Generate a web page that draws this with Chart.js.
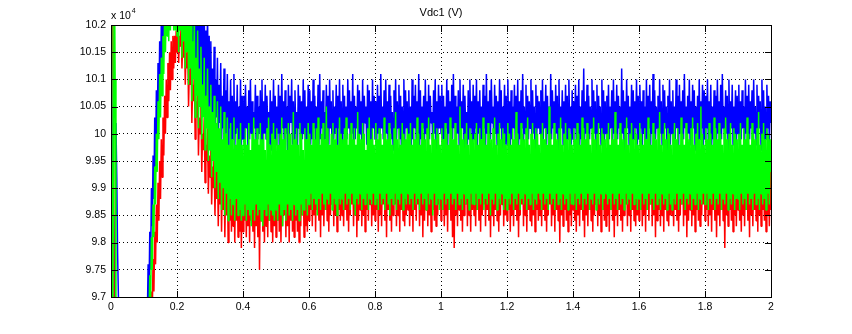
<!DOCTYPE html>
<html>
<head>
<meta charset="utf-8">
<script src="https://cdn.jsdelivr.net/npm/chart.js@4.4.0/dist/chart.umd.min.js"></script>
<style>
  html, body { margin: 0; padding: 0; background: #fff; }
  #wrap { width: 852px; height: 334px; }
</style>
</head>
<body>
<div id="wrap"><canvas id="c" width="852" height="334"></canvas></div>
<script>
// DC-link voltage Vdc1, values in units of 10^4 V, one sample every 2.5 ms from t = 0 to 2 s
const SAMPLE_STEP = 0.0025;

const xTicks = [0, 0.2, 0.4, 0.6, 0.8, 1, 1.2, 1.4, 1.6, 1.8, 2];
const xTickLabels = ['0', '0.2', '0.4', '0.6', '0.8', '1', '1.2', '1.4', '1.6', '1.8', '2'];
const yTicks = [9.7, 9.75, 9.8, 9.85, 9.9, 9.95, 10, 10.05, 10.1, 10.15, 10.2];
const yTickLabels = ['9.7', '9.75', '9.8', '9.85', '9.9', '9.95', '10', '10.05', '10.1', '10.15', '10.2'];

// one row = 0.1 s
const traceBlue = [
  10.40,10.10,9.60,9.55,9.62,9.85,10.02,9.92,9.78,9.70,9.60,9.52,9.48,9.45,9.47,9.44,9.42,9.46,9.43,9.41,9.44,9.42,9.45,9.43,9.40,9.44,9.42,9.46,9.43,9.45,9.47,9.44,9.48,9.46,9.49,9.47,9.50,9.48,9.51,9.50,
  9.53,9.56,9.58,9.62,9.66,9.76,9.70,9.82,9.75,9.90,9.83,9.96,9.88,10.03,9.94,10.08,9.99,10.13,10.04,10.17,10.08,10.21,10.12,10.25,10.16,10.29,10.19,10.30,10.22,10.32,10.23,10.31,10.24,10.33,10.22,10.32,10.25,10.34,10.23,10.33,
  10.22,10.33,10.19,10.30,10.21,10.34,10.18,10.29,10.20,10.32,10.16,10.28,10.18,10.31,10.14,10.26,10.17,10.30,10.12,10.25,10.15,10.28,10.10,10.24,10.13,10.27,10.08,10.22,10.11,10.26,10.07,10.21,10.09,10.24,10.05,10.19,10.07,10.23,10.04,10.18,
  10.05,10.17,10.02,10.12,10.04,10.16,10.00,10.10,10.03,10.14,9.99,10.09,10.02,10.13,9.98,10.07,10.01,10.12,9.99,10.08,10.00,10.11,9.97,10.06,10.01,10.10,9.98,10.07,9.99,10.11,9.97,10.06,10.00,10.09,9.98,10.05,9.99,10.10,9.97,10.07,
  9.99,10.07,9.98,10.09,10.01,10.05,9.97,10.08,9.99,10.10,10.00,10.06,9.98,10.04,10.01,10.09,9.97,10.07,9.99,10.05,10.00,10.08,9.98,10.10,9.96,10.06,10.00,10.09,9.99,10.07,10.01,10.04,9.98,10.08,9.97,10.06,10.00,10.10,9.99,10.07,
  9.98,10.05,10.00,10.09,9.97,10.07,9.99,10.11,10.01,10.06,9.98,10.08,10.00,10.05,9.97,10.09,9.99,10.07,10.02,10.10,9.98,10.06,9.99,10.08,10.00,10.04,9.97,10.09,10.01,10.07,9.98,10.06,9.99,10.10,10.00,10.08,9.97,10.05,9.99,10.09,
  10.00,10.08,9.98,10.06,9.99,10.10,10.01,10.07,9.97,10.05,10.00,10.09,9.98,10.11,9.99,10.06,10.01,10.08,9.97,10.04,9.99,10.09,10.00,10.07,9.98,10.10,10.01,10.06,9.97,10.08,9.99,10.05,10.00,10.09,9.98,10.07,10.01,10.10,9.99,10.06,
  9.98,10.09,10.00,10.07,9.97,10.05,9.99,10.10,10.01,10.08,9.98,10.06,10.00,10.11,9.97,10.07,9.99,10.05,10.01,10.09,9.98,10.08,10.00,10.06,9.97,10.10,9.99,10.07,10.02,10.05,9.98,10.09,10.00,10.08,9.97,10.06,9.99,10.10,10.01,10.07,
  9.99,10.06,9.97,10.09,10.00,10.07,9.98,10.11,10.01,10.05,9.99,10.08,9.97,10.10,10.00,10.06,9.98,10.09,10.01,10.07,9.99,10.04,9.97,10.08,10.00,10.10,9.98,10.06,10.01,10.09,9.99,10.07,9.97,10.05,10.00,10.10,9.98,10.08,10.01,10.06,
  9.98,10.08,10.00,10.05,9.97,10.10,9.99,10.07,10.01,10.09,9.98,10.06,10.00,10.11,9.97,10.08,9.99,10.05,10.01,10.07,9.98,10.10,10.00,10.06,9.97,10.09,9.99,10.07,10.02,10.04,9.98,10.08,10.00,10.10,9.97,10.06,9.99,10.09,10.01,10.07,
  10.00,10.09,9.98,10.07,9.99,10.05,10.01,10.10,9.97,10.08,10.00,10.06,9.98,10.09,9.99,10.11,10.01,10.07,9.97,10.05,10.00,10.08,9.98,10.10,9.99,10.06,10.01,10.09,9.97,10.07,10.00,10.04,9.98,10.08,9.99,10.10,10.01,10.06,9.97,10.09,
  9.99,10.07,10.01,10.10,9.97,10.06,10.00,10.08,9.98,10.05,9.99,10.09,10.01,10.07,9.97,10.11,10.00,10.06,9.98,10.08,9.99,10.10,10.02,10.05,9.97,10.09,10.00,10.07,9.98,10.06,9.99,10.10,10.01,10.08,9.97,10.05,10.00,10.09,9.98,10.07,
  9.98,10.10,10.00,10.06,9.97,10.08,9.99,10.05,10.01,10.09,9.98,10.07,10.00,10.10,9.97,10.06,9.99,10.08,10.01,10.11,9.98,10.05,10.00,10.09,9.97,10.07,9.99,10.06,10.01,10.10,9.98,10.08,10.00,10.05,9.97,10.09,9.99,10.07,10.01,10.06,
  10.00,10.08,9.97,10.10,9.99,10.06,10.01,10.09,9.98,10.07,10.00,10.05,9.97,10.11,9.99,10.08,10.01,10.06,9.98,10.09,10.00,10.07,9.97,10.10,9.99,10.05,10.01,10.08,9.98,10.06,10.00,10.09,9.97,10.07,9.99,10.10,10.01,10.05,9.98,10.08,
  9.99,10.06,10.01,10.09,9.98,10.07,10.00,10.10,9.97,10.05,9.99,10.08,10.01,10.12,9.98,10.06,10.00,10.09,9.97,10.07,9.99,10.05,10.01,10.10,9.98,10.08,10.00,10.06,9.97,10.09,9.99,10.07,10.01,10.05,9.98,10.10,10.00,10.08,9.97,10.06,
  10.00,10.07,9.98,10.09,9.99,10.05,10.01,10.08,9.97,10.10,10.00,10.06,9.98,10.09,9.99,10.07,10.01,10.05,9.98,10.12,10.00,10.08,9.97,10.06,9.99,10.10,10.01,10.07,9.98,10.05,10.00,10.09,9.97,10.08,9.99,10.06,10.01,10.10,9.98,10.07,
  9.99,10.09,10.01,10.06,9.97,10.08,10.00,10.05,9.98,10.10,9.99,10.07,10.01,10.09,9.97,10.06,10.00,10.11,9.98,10.08,9.99,10.05,10.01,10.07,9.97,10.10,10.00,10.06,9.98,10.09,9.99,10.08,10.01,10.05,9.97,10.07,10.00,10.10,9.98,10.06,
  10.00,10.08,9.98,10.05,9.99,10.10,10.01,10.07,9.97,10.09,10.00,10.06,9.98,10.08,9.99,10.11,10.01,10.05,9.97,10.07,10.00,10.10,9.98,10.06,9.99,10.09,10.01,10.08,9.97,10.05,10.00,10.07,9.98,10.10,9.99,10.06,10.01,10.09,9.97,10.08,
  9.99,10.07,10.01,10.10,9.98,10.06,10.00,10.09,9.97,10.05,9.99,10.08,10.01,10.07,9.98,10.10,10.00,10.06,9.97,10.09,9.99,10.11,10.01,10.05,9.98,10.08,10.00,10.07,9.97,10.10,9.99,10.06,10.01,10.09,9.98,10.05,10.00,10.08,9.97,10.07,
  10.00,10.09,9.98,10.06,9.99,10.08,10.01,10.05,9.97,10.10,10.00,10.07,9.98,10.09,9.99,10.06,10.01,10.08,9.97,10.10,10.00,10.05,9.98,10.09,9.99,10.07,10.01,10.06,9.97,10.10,10.00,10.08,9.98,10.05,9.99,10.09,10.01,10.07,9.98,10.06,
  10.02
];

const traceGreen = [
  10.40,10.00,9.60,9.90,10.35,10.10,9.55,9.50,9.45,9.42,9.46,9.40,9.44,9.41,9.45,9.43,9.47,9.44,9.46,9.42,9.48,9.45,9.43,9.41,9.44,9.42,9.46,9.43,9.45,9.47,9.44,9.46,9.48,9.45,9.49,9.47,9.50,9.48,9.51,9.52,
  9.53,9.55,9.57,9.59,9.61,9.63,9.66,9.74,9.69,9.81,9.75,9.87,9.81,9.94,9.87,10.00,9.93,10.06,9.99,10.11,10.03,10.14,10.07,10.18,10.11,10.22,10.15,10.26,10.18,10.28,10.17,10.30,10.19,10.29,10.20,10.31,10.19,10.30,10.19,10.31,
  10.18,10.30,10.15,10.27,10.19,10.31,10.14,10.26,10.17,10.29,10.12,10.24,10.15,10.27,10.09,10.20,10.12,10.25,10.06,10.17,10.10,10.22,10.03,10.14,10.07,10.19,10.01,10.12,10.05,10.16,9.99,10.09,10.03,10.14,9.97,10.07,10.01,10.12,9.95,10.05,
  9.97,10.09,9.92,10.04,9.95,10.07,9.90,10.02,9.93,10.06,9.88,10.01,9.91,10.05,9.86,9.99,9.90,10.04,9.85,10.00,9.89,10.03,9.84,9.98,9.88,10.02,9.85,9.99,9.87,10.03,9.84,9.98,9.88,10.01,9.85,9.99,9.86,10.02,9.84,9.98,
  9.85,9.99,9.87,10.01,9.84,9.98,9.86,10.02,9.85,9.97,9.83,10.00,9.86,10.03,9.84,9.99,9.87,10.01,9.85,9.98,9.86,10.02,9.84,9.99,9.83,10.00,9.86,9.97,9.85,10.01,9.87,10.03,9.84,9.98,9.86,10.00,9.85,10.02,9.84,9.99,
  9.86,10.01,9.84,9.98,9.87,10.00,9.85,10.03,9.83,9.99,9.86,10.01,9.84,9.97,9.87,10.02,9.85,10.00,9.86,9.98,9.84,10.04,9.87,9.99,9.85,10.01,9.86,9.98,9.84,10.02,9.87,10.00,9.85,9.97,9.86,10.01,9.88,9.99,9.85,10.02,
  9.87,10.00,9.89,9.98,9.86,10.02,9.88,9.99,9.87,10.01,9.85,10.03,9.88,9.98,9.86,10.00,9.89,10.02,9.87,9.99,9.86,10.05,9.88,10.01,9.87,9.98,9.89,10.00,9.86,10.02,9.88,9.99,9.87,10.01,9.85,9.98,9.88,10.03,9.87,10.00,
  9.88,9.99,9.86,10.01,9.89,10.03,9.87,9.98,9.88,10.00,9.86,10.02,9.89,9.99,9.87,10.01,9.85,9.98,9.88,10.04,9.87,10.00,9.89,9.99,9.86,10.02,9.88,10.00,9.87,9.97,9.89,10.01,9.86,10.03,9.88,9.99,9.87,10.01,9.89,9.98,
  9.87,10.02,9.88,9.99,9.86,10.01,9.89,10.00,9.87,9.98,9.88,10.03,9.86,10.00,9.89,9.99,9.87,10.02,9.85,10.00,9.88,9.98,9.87,10.01,9.89,10.04,9.86,9.99,9.88,10.01,9.87,9.98,9.89,10.02,9.86,10.00,9.88,9.99,9.87,10.01,
  9.89,10.00,9.87,10.02,9.88,9.98,9.86,10.01,9.89,9.99,9.87,10.03,9.88,10.00,9.86,9.98,9.89,10.02,9.87,10.00,9.88,9.99,9.86,10.01,9.89,10.03,9.87,9.98,9.88,10.00,9.85,10.02,9.89,9.99,9.87,10.01,9.88,10.00,9.86,9.98,
  9.88,10.01,9.86,9.99,9.89,10.02,9.87,10.00,9.88,9.98,9.86,10.03,9.89,10.01,9.87,9.99,9.88,10.02,9.86,10.00,9.89,9.98,9.87,10.05,9.88,10.01,9.86,9.99,9.89,10.00,9.87,10.02,9.88,9.98,9.86,10.01,9.89,10.00,9.87,9.99,
  9.87,10.00,9.89,10.02,9.86,9.98,9.88,10.01,9.87,9.99,9.89,10.03,9.86,10.00,9.88,9.98,9.87,10.02,9.89,10.00,9.85,9.99,9.88,10.01,9.87,10.03,9.89,9.98,9.86,10.00,9.88,10.02,9.87,9.99,9.89,10.01,9.86,10.00,9.88,9.98,
  9.86,10.02,9.88,10.00,9.87,9.98,9.89,10.01,9.86,9.99,9.88,10.04,9.87,10.00,9.89,9.98,9.86,10.02,9.88,10.00,9.87,9.99,9.89,10.01,9.86,10.03,9.88,9.98,9.87,10.00,9.89,10.02,9.86,9.99,9.88,10.01,9.87,10.00,9.89,9.98,
  9.88,10.00,9.86,10.02,9.89,9.99,9.87,10.01,9.88,9.98,9.86,10.05,9.89,10.00,9.87,9.98,9.88,10.02,9.86,10.00,9.89,9.99,9.87,10.01,9.88,10.03,9.86,9.98,9.89,10.00,9.87,10.02,9.88,9.99,9.86,10.01,9.89,10.00,9.87,9.98,
  9.87,10.01,9.89,9.99,9.86,10.02,9.88,10.00,9.87,9.98,9.89,10.03,9.86,10.01,9.88,9.99,9.87,10.02,9.89,10.00,9.86,9.98,9.88,10.01,9.87,10.03,9.89,9.99,9.86,10.00,9.88,10.02,9.87,9.98,9.89,10.01,9.86,10.00,9.88,9.99,
  9.89,10.00,9.87,10.02,9.88,9.98,9.86,10.01,9.89,9.99,9.87,10.04,9.88,10.00,9.86,9.98,9.89,10.02,9.87,10.00,9.88,9.99,9.86,10.01,9.89,10.03,9.87,9.98,9.88,10.00,9.86,10.02,9.89,9.99,9.87,10.01,9.88,10.00,9.86,9.98,
  9.88,10.02,9.86,10.00,9.89,9.98,9.87,10.01,9.88,9.99,9.86,10.03,9.89,10.00,9.87,9.98,9.88,10.02,9.86,10.00,9.89,9.99,9.87,10.01,9.88,10.04,9.86,9.98,9.89,10.00,9.87,10.02,9.88,9.99,9.86,10.01,9.89,10.00,9.87,9.98,
  9.86,10.00,9.88,10.02,9.87,9.99,9.89,10.01,9.86,9.98,9.88,10.03,9.87,10.00,9.89,9.98,9.86,10.02,9.88,10.00,9.87,9.99,9.89,10.01,9.86,10.03,9.88,9.98,9.87,10.00,9.89,10.02,9.86,9.99,9.88,10.05,9.87,10.00,9.89,9.98,
  9.87,10.01,9.89,9.99,9.86,10.02,9.88,10.00,9.87,9.98,9.89,10.03,9.86,10.01,9.88,9.99,9.87,10.02,9.89,10.00,9.86,9.98,9.88,10.01,9.87,10.03,9.89,9.99,9.86,10.00,9.88,10.02,9.87,9.98,9.89,10.01,9.86,10.00,9.88,9.99,
  9.88,10.00,9.86,10.02,9.89,9.98,9.87,10.01,9.88,9.99,9.86,10.03,9.89,10.00,9.87,9.98,9.88,10.02,9.86,10.00,9.89,9.99,9.87,10.01,9.88,10.04,9.86,9.98,9.89,10.00,9.87,10.02,9.88,9.99,9.86,10.01,9.89,10.00,9.87,9.99,
  9.93
];

const traceRed = [
  10.35,10.32,10.30,10.00,9.60,9.52,9.48,9.45,9.42,9.46,9.40,9.44,9.41,9.45,9.43,9.47,9.44,9.46,9.42,9.48,9.45,9.43,9.41,9.44,9.42,9.46,9.43,9.45,9.47,9.44,9.46,9.48,9.45,9.49,9.47,9.50,9.48,9.51,9.50,9.52,
  9.52,9.54,9.55,9.57,9.58,9.60,9.62,9.64,9.66,9.71,9.67,9.77,9.71,9.82,9.76,9.87,9.80,9.91,9.84,9.95,9.88,9.99,9.92,10.03,9.96,10.07,10.00,10.10,10.03,10.13,10.06,10.15,10.08,10.17,10.10,10.18,10.12,10.18,10.13,10.19,
  10.15,10.19,10.13,10.18,10.16,10.20,10.12,10.17,10.14,10.19,10.09,10.15,10.12,10.17,10.05,10.12,10.09,10.15,10.02,10.09,10.06,10.12,9.99,10.06,10.03,10.09,9.96,10.03,10.00,10.06,9.93,10.00,9.97,10.03,9.91,9.98,9.95,10.01,9.89,9.96,
  9.92,9.98,9.87,9.94,9.90,9.97,9.85,9.93,9.88,9.96,9.83,9.92,9.87,9.95,9.82,9.92,9.86,9.94,9.81,9.91,9.85,9.94,9.80,9.92,9.84,9.93,9.82,9.91,9.83,9.94,9.80,9.92,9.84,9.93,9.81,9.91,9.82,9.94,9.79,9.92,
  9.82,9.93,9.84,9.94,9.81,9.92,9.83,9.95,9.80,9.93,9.84,9.94,9.82,9.92,9.79,9.95,9.83,9.93,9.81,9.94,9.75,9.92,9.84,9.95,9.82,9.93,9.80,9.94,9.83,9.92,9.81,9.95,9.84,9.93,9.82,9.94,9.80,9.92,9.83,9.95,
  9.81,9.93,9.84,9.94,9.82,9.95,9.80,9.92,9.83,9.94,9.85,9.93,9.81,9.95,9.83,9.92,9.80,9.94,9.84,9.93,9.82,9.95,9.81,9.94,9.84,9.92,9.82,9.93,9.80,9.95,9.83,9.94,9.85,9.92,9.81,9.93,9.83,9.95,9.82,9.94,
  9.84,9.94,9.86,9.95,9.83,9.93,9.85,9.96,9.82,9.94,9.86,9.93,9.84,9.95,9.81,9.94,9.85,9.96,9.83,9.93,9.86,9.95,9.84,9.94,9.82,9.93,9.85,9.96,9.87,9.94,9.83,9.95,9.85,9.93,9.82,9.94,9.86,9.96,9.84,9.95,
  9.85,9.93,9.83,9.95,9.86,9.94,9.84,9.96,9.82,9.93,9.85,9.95,9.87,9.94,9.83,9.93,9.85,9.96,9.81,9.94,9.84,9.95,9.86,9.93,9.83,9.94,9.85,9.96,9.82,9.95,9.86,9.93,9.84,9.94,9.87,9.95,9.83,9.96,9.85,9.94,
  9.84,9.95,9.86,9.93,9.82,9.94,9.85,9.96,9.83,9.95,9.87,9.93,9.84,9.94,9.81,9.96,9.86,9.95,9.84,9.93,9.82,9.94,9.85,9.96,9.87,9.95,9.83,9.93,9.85,9.94,9.82,9.96,9.86,9.95,9.84,9.93,9.83,9.94,9.85,9.96,
  9.86,9.94,9.83,9.95,9.85,9.93,9.82,9.96,9.86,9.94,9.84,9.95,9.87,9.93,9.83,9.94,9.85,9.96,9.81,9.95,9.84,9.93,9.86,9.94,9.83,9.96,9.85,9.95,9.82,9.93,9.86,9.94,9.84,9.96,9.83,9.95,9.85,9.93,9.87,9.94,
  9.84,9.95,9.86,9.93,9.83,9.94,9.85,9.96,9.82,9.95,9.86,9.93,9.84,9.94,9.81,9.96,9.79,9.95,9.85,9.93,9.83,9.94,9.86,9.96,9.84,9.95,9.82,9.93,9.85,9.94,9.87,9.96,9.83,9.95,9.85,9.93,9.82,9.94,9.86,9.96,
  9.85,9.94,9.83,9.95,9.86,9.93,9.84,9.96,9.82,9.94,9.85,9.95,9.87,9.93,9.83,9.94,9.86,9.96,9.84,9.95,9.81,9.93,9.85,9.94,9.83,9.96,9.86,9.95,9.84,9.93,9.82,9.94,9.85,9.96,9.87,9.95,9.83,9.93,9.85,9.94,
  9.84,9.96,9.86,9.94,9.82,9.95,9.85,9.93,9.83,9.94,9.86,9.96,9.84,9.95,9.81,9.93,9.85,9.94,9.87,9.96,9.83,9.95,9.85,9.93,9.82,9.94,9.86,9.96,9.84,9.95,9.83,9.93,9.85,9.94,9.82,9.96,9.86,9.95,9.84,9.93,
  9.85,9.94,9.83,9.96,9.86,9.95,9.84,9.93,9.82,9.94,9.85,9.96,9.87,9.95,9.83,9.93,9.85,9.94,9.82,9.96,9.86,9.95,9.84,9.93,9.80,9.94,9.85,9.96,9.83,9.95,9.86,9.93,9.84,9.94,9.82,9.96,9.85,9.95,9.83,9.93,
  9.86,9.95,9.84,9.93,9.82,9.94,9.85,9.96,9.83,9.95,9.86,9.93,9.84,9.94,9.81,9.96,9.85,9.95,9.83,9.93,9.86,9.94,9.84,9.96,9.82,9.95,9.85,9.93,9.87,9.94,9.83,9.96,9.85,9.95,9.82,9.93,9.86,9.94,9.84,9.96,
  9.83,9.94,9.85,9.96,9.82,9.95,9.86,9.93,9.84,9.94,9.81,9.96,9.85,9.95,9.83,9.93,9.86,9.94,9.84,9.96,9.82,9.95,9.85,9.93,9.87,9.94,9.83,9.96,9.85,9.95,9.82,9.93,9.86,9.94,9.84,9.96,9.83,9.95,9.85,9.93,
  9.84,9.95,9.86,9.93,9.83,9.94,9.85,9.96,9.82,9.95,9.86,9.93,9.84,9.94,9.87,9.96,9.83,9.95,9.85,9.93,9.81,9.94,9.84,9.96,9.86,9.95,9.83,9.93,9.85,9.94,9.82,9.96,9.86,9.95,9.84,9.93,9.83,9.94,9.85,9.96,
  9.85,9.93,9.83,9.94,9.86,9.96,9.84,9.95,9.82,9.93,9.85,9.94,9.87,9.96,9.83,9.95,9.85,9.93,9.81,9.94,9.84,9.96,9.86,9.95,9.83,9.93,9.85,9.94,9.82,9.96,9.86,9.95,9.84,9.93,9.83,9.94,9.85,9.96,9.87,9.95,
  9.84,9.94,9.86,9.96,9.83,9.95,9.85,9.93,9.82,9.94,9.86,9.96,9.84,9.95,9.81,9.93,9.85,9.94,9.83,9.96,9.86,9.95,9.84,9.93,9.79,9.94,9.85,9.96,9.83,9.95,9.86,9.93,9.84,9.94,9.82,9.96,9.85,9.95,9.83,9.93,
  9.86,9.95,9.84,9.93,9.82,9.94,9.85,9.96,9.83,9.95,9.86,9.93,9.84,9.94,9.81,9.96,9.85,9.95,9.83,9.93,9.86,9.94,9.84,9.96,9.82,9.95,9.85,9.93,9.83,9.94,9.86,9.96,9.84,9.95,9.82,9.93,9.85,9.94,9.83,9.96,
  9.86
];

const FONT_FAMILY = '"Liberation Sans", Arial, Helvetica, sans-serif';
const TICK_LEN = 6;

const toPoints = arr => arr.map((v, i) => ({ x: i * SAMPLE_STEP, y: v }));

const lineStyle = (color, width, order) => ({
  borderColor: color,
  backgroundColor: color,
  borderWidth: width,
  borderJoinStyle: 'bevel',
  pointRadius: 0,
  tension: 0,
  fill: false,
  clip: 0,
  order: order
});

// MATLAB-style frame: solid box, inward ticks on all four sides, title and exponent
const axesFrame = {
  id: 'axesFrame',
  afterDatasetsDraw(chart) {
    const { ctx, chartArea: a, scales: { x, y } } = chart;
    ctx.save();
    ctx.strokeStyle = '#000';
    ctx.lineWidth = 1;
    ctx.setLineDash([]);
    ctx.beginPath();
    xTicks.forEach(v => {
      const px = Math.round(x.getPixelForValue(v)) + 0.5;
      ctx.moveTo(px, a.top); ctx.lineTo(px, a.top + TICK_LEN + 1);
      ctx.moveTo(px, a.bottom + 1); ctx.lineTo(px, a.bottom - TICK_LEN);
    });
    yTicks.forEach(v => {
      const py = Math.round(y.getPixelForValue(v)) + 0.5;
      ctx.moveTo(a.left, py); ctx.lineTo(a.left + TICK_LEN + 1, py);
      ctx.moveTo(a.right + 1, py); ctx.lineTo(a.right - TICK_LEN, py);
    });
    ctx.stroke();
    ctx.strokeRect(a.left + 0.5, a.top + 0.5, a.right - a.left, a.bottom - a.top);
    ctx.restore();
  },
  afterDraw(chart) {
    const { ctx, chartArea: a } = chart;
    ctx.save();
    ctx.fillStyle = '#000';
    ctx.textAlign = 'center';
    ctx.textBaseline = 'middle';
    ctx.font = '11px ' + FONT_FAMILY;
    ctx.fillText('Vdc1 (V)', (a.left + a.right) / 2, 13);
    ctx.textAlign = 'left';
    ctx.textBaseline = 'alphabetic';
    ctx.font = '10.5px ' + FONT_FAMILY;
    const base = 'x 10';
    ctx.fillText(base, a.left, 19);
    const w = ctx.measureText(base).width;
    ctx.font = '7px ' + FONT_FAMILY;
    ctx.fillText('4', a.left + w + 1, 13);
    ctx.restore();
  }
};

new Chart(document.getElementById('c'), {
  type: 'line',
  data: {
    datasets: [
      Object.assign({ label: 'Vdc1 a', data: toPoints(traceBlue) }, lineStyle('#0000ff', 1.5, 2)),
      Object.assign({ label: 'Vdc1 c', data: toPoints(traceRed) }, lineStyle('#ff0000', 1.5, 1)),
      Object.assign({ label: 'Vdc1 b', data: toPoints(traceGreen) }, lineStyle('#00ff00', 1.5, 0))
    ]
  },
  options: {
    responsive: false,
    animation: false,
    devicePixelRatio: 1,
    events: [],
    layout: { padding: { left: 0, top: 25, right: 81, bottom: 0 } },
    plugins: {
      legend: { display: false },
      title: { display: false },
      tooltip: { enabled: false }
    },
    scales: {
      x: {
        type: 'linear',
        min: 0,
        max: 2,
        afterBuildTicks: s => { s.ticks = xTicks.map(v => ({ value: v })); },
        afterFit: s => { s.height = 37; },
        ticks: {
          autoSkip: false,
          maxRotation: 0,
          minRotation: 0,
          padding: 4,
          color: '#000',
          font: { family: FONT_FAMILY, size: 10.5 },
          callback: (v, i) => xTickLabels[i]
        },
        grid: { color: '#000', lineWidth: 1, drawTicks: false },
        border: { display: false, dash: [1, 3] }
      },
      y: {
        type: 'linear',
        min: 9.7,
        max: 10.2,
        afterBuildTicks: s => { s.ticks = yTicks.map(v => ({ value: v })); },
        afterFit: s => { s.width = 111; },
        ticks: {
          autoSkip: false,
          padding: 5,
          color: '#000',
          font: { family: FONT_FAMILY, size: 10.5 },
          callback: (v, i) => yTickLabels[i]
        },
        grid: { color: '#000', lineWidth: 1, drawTicks: false },
        border: { display: false, dash: [1, 3] }
      }
    }
  },
  plugins: [axesFrame]
});
</script>
</body>
</html>
